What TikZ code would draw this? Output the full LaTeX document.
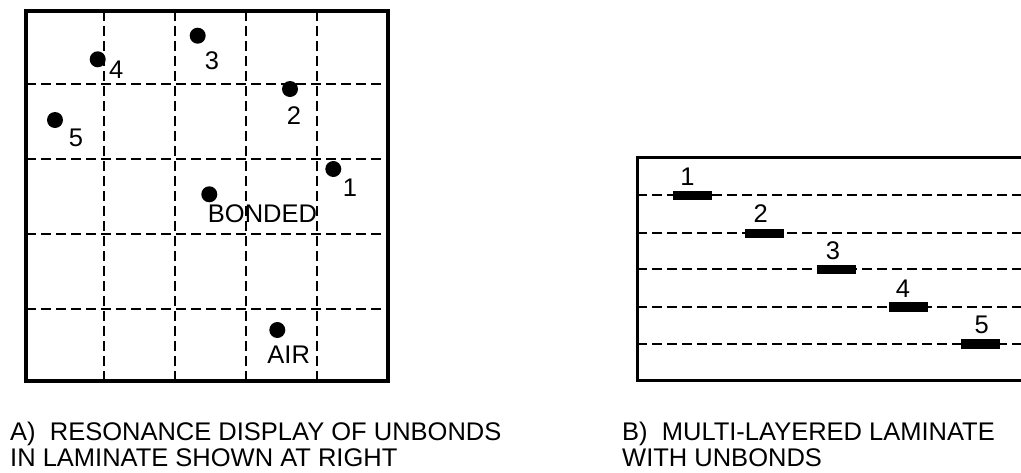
\documentclass[tikz,border=0pt]{standalone}
\usepackage{fontspec}
\setmainfont{Liberation Sans}

\begin{document}
\begin{tikzpicture}[x=1pt, y=-1pt,
		lbl/.style={inner sep=0pt, font=\fontsize{25.5}{27.5}\selectfont},
		spot/.style={circle, fill=black, inner sep=0pt, minimum size=16pt},
		unbond/.style={rectangle, fill=black, inner sep=0pt, minimum width=39pt, minimum height=9.5pt},
		dashline/.style={line width=1.8pt, dash pattern=on 10pt off 5pt},
		frame/.style={line width=3.2pt}]
		
		\useasboundingbox (0,0) rectangle (1021,472);
		
		% A) resonance display
		\draw[dashline] (104.3,11) -- (104.3,381);
		\draw[dashline] (175,11) -- (175,381);
		\draw[dashline] (246,11) -- (246,381);
		\draw[dashline] (316.7,11) -- (316.7,381);
		\draw[dashline] (26,84.3) -- (388,84.3);
		\draw[dashline] (26,159.3) -- (388,159.3);
		\draw[dashline] (26,234.3) -- (388,234.3);
		\draw[dashline] (26,308.7) -- (388,308.7);
		\draw[frame] (26,11) rectangle (388,381);
		
		% spots
		\node[spot] (s4) at (97.7,59.3) {};
		\node[spot] (s3) at (197.7,35.7) {};
		\node[spot] (s2) at (290,89) {};
		\node[spot] (s5) at (55,120) {};
		\node[spot] (s1) at (333.3,169) {};
		\node[spot] (sbond) at (209.3,194.3) {};
		\node[spot] (sair) at (277.3,330) {};
		
		\node[lbl] (t4) at (116.3,70) {4};
		\node[lbl] (t3) at (212,60.5) {3};
		\node[lbl] (t2) at (294,116) {2};
		\node[lbl] (t5) at (76,137.7) {5};
		\node[lbl] (t1) at (350,188) {1};
		\node[lbl] (tbond) at (262.5,214) {BONDED};
		\node[lbl] (tair) at (288.7,355) {AIR};
		
		% B) laminate, box runs off to the right
		\draw[dashline] (637.3,195) -- (1021,195);
		\draw[dashline] (637.3,233.3) -- (1021,233.3);
		\draw[dashline] (637.3,269) -- (1021,269);
		\draw[dashline] (637.3,306.7) -- (1021,306.7);
		\draw[dashline] (637.3,344) -- (1021,344);
		\draw[frame] (1025,157.3) -| (637.3,380.7) -- (1025,380.7);
		
		\node[unbond] (u1) at (692,195.5) {};
		\node[unbond] (u2) at (764,233.7) {};
		\node[unbond] (u3) at (836,269.3) {};
		\node[unbond] (u4) at (908,307) {};
		\node[unbond] (u5) at (980,344) {};
		
		\node[lbl] (n1) at (687.5,177) {1};
		\node[lbl] (n2) at (760.7,214) {2};
		\node[lbl] (n3) at (833,250.5) {3};
		\node[lbl] (n4) at (903,289) {4};
		\node[lbl] (n5) at (981.7,324.5) {5};
		
		% captions
		\node[lbl, anchor=base west] (capA1) at (10,440.5) {A)\ \ RESONANCE DISPLAY OF UNBONDS};
		\node[lbl, anchor=base west] (capA2) at (10,466.5) {IN LAMINATE SHOWN AT RIGHT};
		\node[lbl, anchor=base west] (capB1) at (622,440.5) {B)\ \ MULTI-LAYERED LAMINATE};
		\node[lbl, anchor=base west] (capB2) at (622,466.5) {WITH UNBONDS};
		
	\end{tikzpicture}
\end{document}
